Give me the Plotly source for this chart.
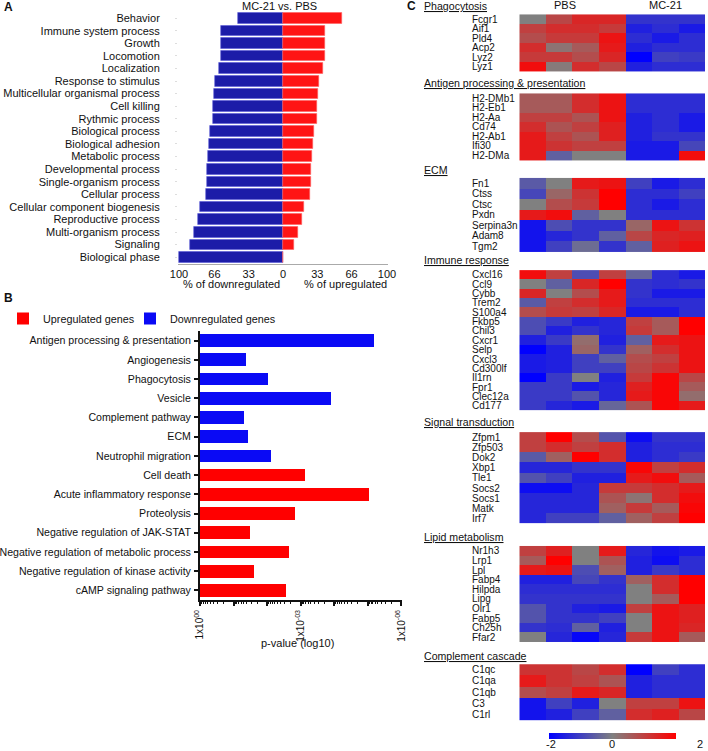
import math
import plotly.graph_objects as go

W, H = 708, 751
FONT = "Arial, 'Liberation Sans', sans-serif"


def px(x):
    return x / W


def py(y):
    return 1 - y / H


# ---------------- Panel A data ----------------
go_terms = ["Behavior", "Immune system process", "Growth", "Locomotion", "Localization",
            "Response to stimulus", "Multicellular organismal process", "Cell killing",
            "Rythmic process", "Biological process", "Biological adhesion", "Metabolic process",
            "Developmental process", "Single-organism process", "Cellular process",
            "Cellular component biogenesis", "Reproductive process", "Multi-organism process",
            "Signaling", "Biological phase"]
pct_down = [43, 60, 60, 60, 62, 65, 66, 67, 67, 70, 71, 72, 73, 73, 74, 80, 82, 86, 89, 100]
pct_up = [57, 40, 40, 40, 38, 35, 34, 33, 33, 30, 29, 28, 27, 27, 26, 20, 18, 14, 11, 0]
a_tickvals = [-100, -66, -33, 0, 33, 66, 100]
a_ticktext = ["100", "66", "33", "0", "33", "66", "100"]

# ---------------- Panel B data ----------------
b_terms = ["Antigen processing & presentation", "Angiogenesis", "Phagocytosis", "Vesicle",
           "Complement pathway", "ECM", "Neutrophil migration", "Cell death",
           "Acute inflammatory response", "Proteolysis", "Negative regulation of JAK-STAT",
           "Negative regulation of metabolic process", "Negative regulation of kinase activity",
           "cAMP signaling pathway"]
b_down_terms = b_terms[:7]
b_down_neglog10p = [5.19, 1.36, 2.03, 3.89, 1.32, 1.42, 2.11]
b_up_terms = b_terms[7:]
b_up_neglog10p = [3.13, 5.03, 2.82, 1.49, 2.66, 1.61, 2.56]
b_tickvals = [0, 1, 2, 3, 4, 5, 6]
b_ticktext = ["1x10<sup>00</sup>", "", "", "1x10<sup>-03</sup>", "", "", "1x10<sup>-06</sup>"]

# ---------------- Panel C data ----------------
samples = ["PBS1", "PBS2", "PBS3", "PBS4", "MC21-1", "MC21-2", "MC21-3"]

phago_genes = ["Fcgr1", "Aif1", "Pld4", "Acp2", "Lyz2", "Lyz1"]
phago_z = [
    [0.0, 0.9, 1.4, 1.4, -1.2, -1.2, -1.2],
    [1.0, 1.3, 1.3, 1.1, -1.5, -1.3, -1.6],
    [0.8, 1.1, 1.1, 1.7, -1.3, -1.6, -1.3],
    [1.3, 0.2, 0.6, 1.6, -1.5, -1.3, -1.3],
    [1.1, 1.1, 0.8, 1.4, -2.0, -1.0, -1.1],
    [1.8, 0.1, 1.3, 0.9, -1.5, -1.3, -1.3],
]
antigen_genes = ["H2-DMb1", "H2-Eb1", "H2-Aa", "Cd74", "H2-Ab1", "Ifi30", "H2-DMa"]
antigen_z = [
    [0.6, 0.6, 1.3, 1.7, -1.3, -1.3, -1.3],
    [0.6, 0.6, 1.3, 1.7, -1.3, -1.3, -1.3],
    [1.0, 1.0, 0.7, 1.7, -1.5, -1.3, -1.6],
    [1.3, 0.7, 1.0, 1.5, -1.5, -1.3, -1.6],
    [1.6, 1.0, 0.7, 1.5, -1.5, -1.2, -1.2],
    [1.6, 1.2, 1.0, 1.0, -1.6, -1.6, -0.9],
    [1.6, -0.5, 0.0, 0.0, -1.6, -1.6, 1.8],
]
ecm_genes = ["Fn1", "Ctss", "Ctsc", "Pxdn", "Serpina3n", "Adam8", "Tgm2"]
ecm_z = [
    [-0.6, 0.0, 1.6, 1.7, -1.0, -1.6, -1.3],
    [-0.9, 0.4, 1.2, 2.0, -1.3, -1.3, -1.0],
    [0.0, 0.8, 1.1, 2.0, -1.3, -1.6, -1.3],
    [1.6, 1.8, -0.5, 0.0, -1.3, -1.3, -1.3],
    [-1.7, -0.8, -1.2, -1.2, 0.4, 1.7, 1.2],
    [-1.7, -1.4, -1.2, -0.5, 0.9, 1.4, 1.5],
    [-1.7, -1.0, -0.3, -1.2, -0.5, 1.5, 1.7],
]
immune_genes = ["Cxcl16", "Ccl9", "Cybb", "Trem2", "S100a4", "Fkbp5", "Chil3", "Cxcr1", "Selp",
                "Cxcl3", "Cd300lf", "Il1rn", "Fpr1", "Clec12a", "Cd177"]
immune_z = [
    [1.8, 1.0, -0.8, 1.0, -0.4, -1.3, -1.6],
    [0.0, -0.5, 1.4, 2.0, -1.2, -1.3, -1.2],
    [1.4, 0.0, 0.8, 1.6, -1.2, -1.6, -1.6],
    [-0.6, 1.0, 1.3, 1.6, -1.3, -1.3, -1.3],
    [0.8, 1.1, 1.0, 1.4, -1.6, -1.6, -1.3],
    [-0.8, -1.1, -1.5, -1.4, 1.0, 0.6, 2.0],
    [-0.8, -1.5, -1.2, -1.4, 1.1, 0.6, 2.0],
    [-1.5, -1.1, 0.3, -1.5, -0.5, 1.6, 1.7],
    [-2.0, -1.5, 0.4, -1.2, 0.5, 1.3, 1.7],
    [-1.6, -1.5, -1.0, -0.5, 0.8, 1.0, 1.7],
    [-1.6, -1.5, -1.0, -1.0, 0.9, 1.2, 1.7],
    [-2.0, -1.1, 0.0, -1.5, 1.1, 1.9, 0.9],
    [-1.1, -1.1, -1.6, -1.4, 1.5, 1.9, 0.6],
    [-1.1, -1.1, -0.7, -1.4, 1.6, 1.9, 0.3],
    [-1.1, -1.4, -1.6, -0.4, 0.7, 1.9, 1.6],
]
signal_genes = ["Zfpm1", "Zfp503", "Dok2", "Xbp1", "Tle1", "Socs2", "Socs1", "Matk", "Irf7"]
signal_z = [
    [1.0, 2.0, 0.8, -0.7, -1.8, -1.2, -1.2],
    [1.0, 1.3, 1.0, 1.3, -1.5, -1.3, -1.3],
    [-0.6, 0.5, 2.0, 1.3, -1.5, -1.3, -1.1],
    [-1.4, -1.4, -1.2, -1.2, 1.9, 1.0, 1.3],
    [-0.7, -1.0, -1.5, -1.5, 1.6, 1.8, 0.6],
    [-1.8, -1.8, -1.4, 1.1, 1.1, 1.3, 1.6],
    [-1.4, -1.4, -1.4, 0.7, 0.2, 1.3, 1.8],
    [-1.4, -1.4, -1.4, 0.5, 1.1, 0.6, 1.9],
    [-1.4, -1.0, -1.0, -0.5, 0.5, 1.0, 2.0],
]
lipid_genes = ["Nr1h3", "Lrp1", "Lpl", "Fabp4", "Hilpda", "Lipg", "Olr1", "Fabp5", "Ch25h", "Ffar2"]
lipid_z = [
    [1.0, 1.5, 0.0, 1.6, -1.4, -1.7, -1.6],
    [0.6, 2.0, 0.0, 0.7, -1.5, -1.8, -1.3],
    [1.6, 1.7, -0.8, 0.5, -1.5, -1.1, -1.3],
    [-1.5, -1.5, -0.9, -1.2, 0.5, 1.3, 2.0],
    [-1.3, -1.3, -1.3, -1.3, 0.0, 1.3, 2.0],
    [-1.2, -1.2, -1.2, -1.2, 0.0, 0.6, 2.0],
    [-0.7, -1.2, -1.5, -1.6, 1.0, 1.7, 1.5],
    [-0.7, -1.2, -1.2, -1.0, 0.0, 1.7, 1.5],
    [-1.2, -1.3, -0.5, -1.5, 0.0, 1.7, 1.4],
    [0.0, -1.4, -1.9, -1.4, 1.1, 1.7, 0.6],
]
compl_genes = ["C1qc", "C1qa", "C1qb", "C3", "C1rl"]
compl_z = [
    [1.2, 1.2, 0.9, 1.3, -2.0, -1.0, -1.3],
    [1.6, 1.2, 1.0, 0.7, -1.5, -1.3, -1.3],
    [0.8, 1.0, 1.6, 1.4, -1.5, -1.3, -1.3],
    [-1.7, -1.0, -1.5, 0.0, 1.0, 1.0, 1.7],
    [-1.7, -1.5, -1.0, -0.5, 1.3, 1.5, 0.9],
]
group_titles = ["Phagocytosis", "Antigen processing & presentation", "ECM", "Immune response",
                "Signal transduction", "Lipid metabolism", "Complement cascade"]
group_genes = [phago_genes, antigen_genes, ecm_genes, immune_genes, signal_genes, lipid_genes, compl_genes]
group_z = [phago_z, antigen_z, ecm_z, immune_z, signal_z, lipid_z, compl_z]

# layout geometry (pixels)
block_px = [(12.7, 73.3), (91.7, 161.7), (176.7, 252.7), (268.3, 412.3),
            (430.7, 525.0), (544.3, 644.0), (663.3, 720.7)]
header_px = [6, 83, 170, 260, 421.5, 537, 656]

COLORSCALE = [[0.0, "rgb(0,0,255)"], [0.5, "rgb(128,128,128)"], [1.0, "rgb(255,0,0)"]]

fig = go.Figure()

# ---- Panel A bars
fig.add_trace(go.Bar(y=go_terms, x=[-v for v in pct_down], orientation="h",
                     marker=dict(color="#1c1ca8", line=dict(width=0.6, color="#5a5ad8")),
                     width=0.84, xaxis="x", yaxis="y", showlegend=False))
fig.add_trace(go.Bar(y=go_terms, x=pct_up, orientation="h",
                     marker=dict(color="#ff1414", line=dict(width=0.6, color="#ff6060")),
                     width=0.84, xaxis="x", yaxis="y", showlegend=False))

# ---- Panel B bars
fig.add_trace(go.Bar(y=b_up_terms, x=b_up_neglog10p, orientation="h", name="Upregulated genes",
                     marker=dict(color="#ff0000", line=dict(width=0)), width=0.66,
                     xaxis="x2", yaxis="y2", legend="legend"))
fig.add_trace(go.Bar(y=b_down_terms, x=b_down_neglog10p, orientation="h", name="Downregulated genes",
                     marker=dict(color="#0a0af5", line=dict(width=0)), width=0.66,
                     xaxis="x2", yaxis="y2", legend="legend2"))

# ---- Panel C heatmaps
annotations = []
for i, (genes, z) in enumerate(zip(group_genes, group_z)):
    yname = "y%d" % (i + 3)
    hm = dict(z=z, x=samples, y=genes, colorscale=COLORSCALE, zmin=-2, zmax=2,
              xaxis="x3", yaxis=yname, showscale=(i == 0))
    if i == 0:
        hm["colorbar"] = dict(orientation="h", x=px(612.5), xanchor="center", y=py(736),
                              yanchor="middle", len=127, lenmode="pixels", thickness=6,
                              showticklabels=False, ticks="", outlinewidth=0,
                              xpad=0, ypad=0)
    fig.add_trace(go.Heatmap(**hm))
    for g in genes:
        annotations.append(dict(x=px(471), xref="paper", y=g, yref=yname, text=g,
                                xanchor="left", yanchor="middle", showarrow=False,
                                borderpad=0,
                                font=dict(size=10, color="#111")))
    annotations.append(dict(x=px(422), xref="paper", y=py(header_px[i]), yref="paper",
                            text="<u>%s</u>" % group_titles[i], xanchor="left", yanchor="middle",
                            showarrow=False, font=dict(size=10.6, color="#111")))

# other texts
extra = [
    dict(x=px(2), y=py(7), text="<b>A</b>", font=dict(size=12)),
    dict(x=px(2), y=py(298), text="<b>B</b>", font=dict(size=12)),
    dict(x=px(405), y=py(6), text="<b>C</b>", font=dict(size=12)),
    dict(x=px(279), y=py(6), text="MC-21 vs. PBS", font=dict(size=11), xanchor="center"),
    dict(x=px(231), y=py(284), text="% of downregulated", font=dict(size=11), xanchor="center"),
    dict(x=px(345), y=py(284), text="% of upregulated", font=dict(size=11), xanchor="center"),
    dict(x=px(297), y=py(643), text="p-value (log10)", font=dict(size=11), xanchor="center"),
    dict(x=px(565), y=py(5), text="PBS", font=dict(size=11), xanchor="center"),
    dict(x=px(665), y=py(5), text="MC-21", font=dict(size=11), xanchor="center"),
    dict(x=px(551), y=py(744), text="-2", font=dict(size=11), xanchor="center"),
    dict(x=px(612), y=py(744), text="0", font=dict(size=11), xanchor="center"),
    dict(x=px(700), y=py(744), text="2", font=dict(size=11), xanchor="center"),
]
for a in extra:
    a.setdefault("xanchor", "left")
    a.update(xref="paper", yref="paper", yanchor="middle", showarrow=False)
    a["font"]["color"] = "#111"
annotations += extra

minor_vals = [n + 1 - math.log10(k) for n in range(6) for k in range(2, 10)]

legend_style = dict(orientation="h", xanchor="left", yanchor="top", font=dict(size=10.8),
                    itemwidth=30, bgcolor="rgba(0,0,0,0)")

layout = dict(
    width=W, height=H, margin=dict(l=0, r=0, t=0, b=0, autoexpand=False),
    paper_bgcolor="white", plot_bgcolor="white",
    font=dict(family=FONT, size=11, color="#111"),
    barmode="relative", bargap=0,
    showlegend=True,
    legend=dict(x=px(3), y=py(304), **legend_style),
    legend2=dict(x=px(130), y=py(304), **legend_style),
    annotations=annotations,
    # Panel A
    xaxis=dict(domain=[px(178), px(388)], range=[-101, 101], anchor="y",
               tickvals=a_tickvals, ticktext=a_ticktext, showgrid=False, zeroline=False,
               showline=True, linecolor="#aaaaaa", linewidth=1, ticks="",
               tickfont=dict(size=11), fixedrange=True),
    yaxis=dict(domain=[py(263.5), py(11.8)], categoryorder="array", categoryarray=go_terms,
               tickmode="array", tickvals=go_terms, ticktext=go_terms,
               autorange="reversed", anchor="x", showgrid=False, zeroline=False,
               ticks="outside", ticklen=2, tickcolor="#dddddd", ticklabelstandoff=13,
               tickfont=dict(size=11), showline=False),
    # Panel B
    xaxis2=dict(domain=[px(200), px(402)], range=[0, 6.02], anchor="y2",
                tickvals=b_tickvals, ticktext=b_ticktext, tickangle=-90,
                ticks="outside", ticklen=4, tickwidth=1.5, tickcolor="#111",
                showline=True, linecolor="#111", linewidth=2, showgrid=False, zeroline=False,
                tickfont=dict(size=10),
                minor=dict(tickmode="array", tickvals=minor_vals, ticks="outside",
                           ticklen=2, tickwidth=1, tickcolor="#111", showgrid=False)),
    yaxis2=dict(domain=[py(600), py(331)], categoryorder="array", categoryarray=b_terms,
                tickmode="array", tickvals=b_terms, ticktext=b_terms,
                autorange="reversed", anchor="x2", showgrid=False, zeroline=False,
                ticks="outside", ticklen=4, tickwidth=1.5, tickcolor="#111",
                showline=True, linecolor="#111", linewidth=2, tickfont=dict(size=10.6),
                ticklabelstandoff=1),
    # Panel C
    xaxis3=dict(domain=[px(519.3), px(705)], anchor="y3", visible=False,
                range=[-0.5, 6.5]),
)
for i, (top, bot) in enumerate(block_px):
    genes = group_genes[i]
    layout["yaxis%d" % (i + 3)] = dict(domain=[py(bot), py(top)], anchor="x3", visible=False,
                                       categoryorder="array", categoryarray=genes,
                                       autorange="reversed")
fig.update_layout(**layout)

fig.write_html("out.html", config={"displayModeBar": False},
               post_script="document.body.style.margin='0px';")
